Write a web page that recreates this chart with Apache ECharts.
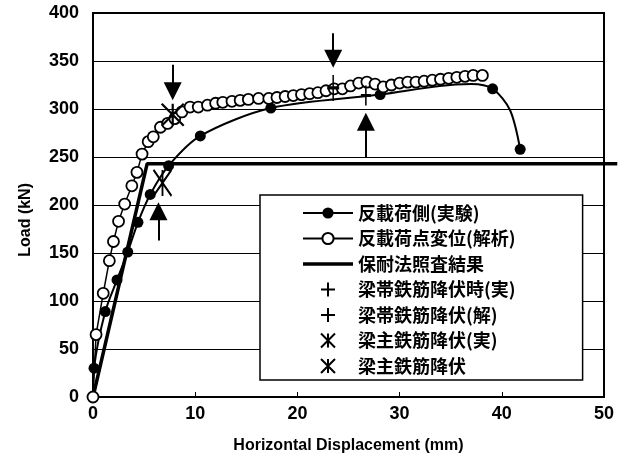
<!DOCTYPE html>
<html>
<head>
<meta charset="utf-8">
<script src="https://cdn.jsdelivr.net/npm/echarts@6/dist/echarts.min.js"></script>
<style>
html, body { margin: 0; padding: 0; background: #fff; }
#chart { width: 625px; height: 476px; }
</style>
</head>
<body>
<div id="chart"></div>
<script>
// 実験 (filled circles)
var expPoints = [[0, 0], [0.1, 30], [1.2, 89], [2.35, 122], [3.4, 151], [4.4, 182], [5.6, 211],
  [7.4, 241], [10.5, 272], [17.4, 301], [28.1, 315], [39.1, 321], [41.8, 258]]
// bends of the experiment curve without marker
var expBends = [[33.9, 324], [37.0, 326], [40.8, 299]]
// 解析 (open circles)
var anaPoints = [[0, 0], [0.3, 65], [1.0, 108], [1.6, 142], [2.0, 162], [2.5, 183], [3.1, 201],
  [3.8, 220], [4.3, 234], [4.8, 253], [5.4, 266], [5.9, 271], [6.6, 281], [7.3, 285], [8.0, 290],
  [8.7, 297], [9.5, 302], [10.3, 302], [11.2, 304], [12.0, 306], [12.7, 307], [13.6, 308],
  [14.4, 309], [15.2, 310], [16.2, 311], [17.2, 311], [18.0, 312], [18.8, 313], [19.6, 314],
  [20.4, 315], [21.2, 316], [22.0, 317], [22.8, 319], [23.6, 321], [24.4, 321], [25.2, 324],
  [26.0, 327], [26.8, 328], [27.6, 326], [28.4, 323], [29.2, 325], [30.0, 327], [30.8, 328],
  [31.6, 328], [32.4, 329], [33.2, 330], [34.0, 331], [34.8, 332], [35.6, 333], [36.4, 334],
  [37.2, 335], [38.1, 335]]
// 保耐法照査結果 (runs a little past the right frame)
var capLine = [[0, 0], [5.3, 243], [50, 243]]
var capOver = [[50, 243], [51.3, 243]]
var hoopExp = [[23.5, 322]]
var hoopAna = [[26.7, 314]]
var mainExp = [[6.8, 223]]
var mainAna = [[7.8, 294]]
// arrows: x, tail load, tip load
var arrows = [[7.8, 346, 309], [6.4, 163, 203], [23.5, 379, 343], [26.7, 249, 296]]

var names = ['反載荷側(実験)', '反載荷点変位(解析)', '保耐法照査結果',
  '梁帯鉄筋降伏時(実)', '梁帯鉄筋降伏(解)', '梁主鉄筋降伏(実)', '梁主鉄筋降伏']

var plusPath = 'path://M5,0L5,10M0,5L10,5'
var starPath = 'path://M0,0L10,10M10,0L0,10M5,0L5,10'

var expData = expPoints.map(function (p) { return { value: p } })
  .concat(expBends.map(function (p) { return { value: p, symbol: 'none' } }))
expData.sort(function (a, b) { return a.value[0] - b.value[0] })

var arrowLines = arrows.map(function (a) {
  var dir = a[2] > a[1] ? 1 : -1
  return [{ coord: [a[0], a[1]] }, { coord: [a[0], a[2] - dir * 9.4] }]
})

var markStyle = { color: 'transparent', borderColor: '#000', borderWidth: 2.2, opacity: 1 }

var legendData = names.map(function (n) { return { name: n } })
legendData[2].icon = 'path://M0,0H50V3.5H0Z'

var chart = echarts.init(document.getElementById('chart'))
var tickFont = { color: '#000', fontFamily: 'Liberation Sans', fontWeight: 'bold', fontSize: 18 }
chart.setOption({
  animation: false,
  backgroundColor: '#fff',
  grid: { left: 93, right: 21, top: 13, bottom: 79, show: true, borderColor: '#000', borderWidth: 2 },
  xAxis: {
    type: 'value', min: 0, max: 50, interval: 10,
    name: 'Horizontal Displacement (mm)', nameLocation: 'middle', nameGap: 41,
    nameTextStyle: { color: '#000', fontFamily: 'Liberation Sans', fontWeight: 'bold', fontSize: 16 },
    axisLine: { lineStyle: { color: '#000', width: 2 } },
    axisTick: { inside: true, length: 5, lineStyle: { color: '#000' } },
    axisLabel: Object.assign({ margin: 8 }, tickFont),
    splitLine: { show: false }
  },
  yAxis: {
    type: 'value', min: 0, max: 400, interval: 50,
    axisLine: { show: true, lineStyle: { color: '#000', width: 2 } },
    axisTick: { show: true, inside: true, length: 5, lineStyle: { color: '#000' } },
    axisLabel: Object.assign({ margin: 14 }, tickFont),
    splitLine: { show: true, lineStyle: { color: '#000', width: 1 } }
  },
  graphic: [{
    type: 'text', left: 18, top: 183, rotation: Math.PI / 2,
    style: { text: 'Load (kN)', fill: '#000', font: 'bold 16px "Liberation Sans"' }
  }],
  legend: {
    data: legendData, orient: 'vertical', left: 260, top: 195,
    padding: [8, 67, 4, 42], itemGap: 5.5, itemWidth: 50, itemHeight: 14,
    backgroundColor: '#fff', borderColor: '#000', borderWidth: 1.5,
    textStyle: { color: '#000', fontFamily: 'Noto Sans CJK JP', fontWeight: 'bold', fontSize: 18, lineHeight: 20 }
  },
  series: [{
    name: names[0], type: 'line', data: expData, smooth: 0.3,
    symbol: 'circle', symbolSize: 11, z: 3,
    lineStyle: { color: '#000', width: 2 }, itemStyle: { color: '#000' }
  }, {
    name: names[1], type: 'line', data: anaPoints,
    symbol: 'circle', symbolSize: 11, z: 4,
    lineStyle: { color: '#000', width: 1.5 },
    itemStyle: { color: '#fff', borderColor: '#000', borderWidth: 1.8 }
  }, {
    name: names[2], type: 'line', data: capLine, z: 2, symbol: 'none',
    lineStyle: { color: '#000', width: 3.5 }, itemStyle: { color: '#000' }
  }, {
    name: names[3], type: 'scatter', data: hoopExp, symbol: plusPath, symbolSize: [12, 26], z: 5,
    itemStyle: markStyle
  }, {
    name: names[4], type: 'scatter', data: hoopAna, symbol: plusPath, symbolSize: [10, 20], z: 5,
    itemStyle: markStyle
  }, {
    name: names[5], type: 'scatter', data: mainExp, symbol: starPath, symbolSize: [18, 26], z: 5,
    itemStyle: markStyle
  }, {
    name: names[6], type: 'scatter', data: mainAna, symbol: starPath, symbolSize: [22, 22], z: 5,
    itemStyle: markStyle
  }, {
    name: 'arrows', type: 'line', data: [], z: 6,
    markLine: {
      silent: true, animation: false,
      symbol: ['none', 'triangle'], symbolSize: [18, 18],
      label: { show: false },
      lineStyle: { color: '#000', width: 2, type: 'solid' },
      itemStyle: { color: '#000' },
      data: arrowLines
    }
  }]
})

// the overshoot past x=50 is outside the grid clip, so place it with the axis scale
var p0 = chart.convertToPixel({ gridIndex: 0 }, capOver[0])
var p1 = chart.convertToPixel({ gridIndex: 0 }, capOver[1])
chart.setOption({
  graphic: [{
    type: 'text', left: 18, top: 183, rotation: Math.PI / 2,
    style: { text: 'Load (kN)', fill: '#000', font: 'bold 16px "Liberation Sans"' }
  }, {
    type: 'line', z: 2,
    shape: { x1: p0[0], y1: p0[1], x2: p1[0], y2: p1[1] },
    style: { stroke: '#000', lineWidth: 3.5 }
  }]
})
</script>
</body>
</html>
